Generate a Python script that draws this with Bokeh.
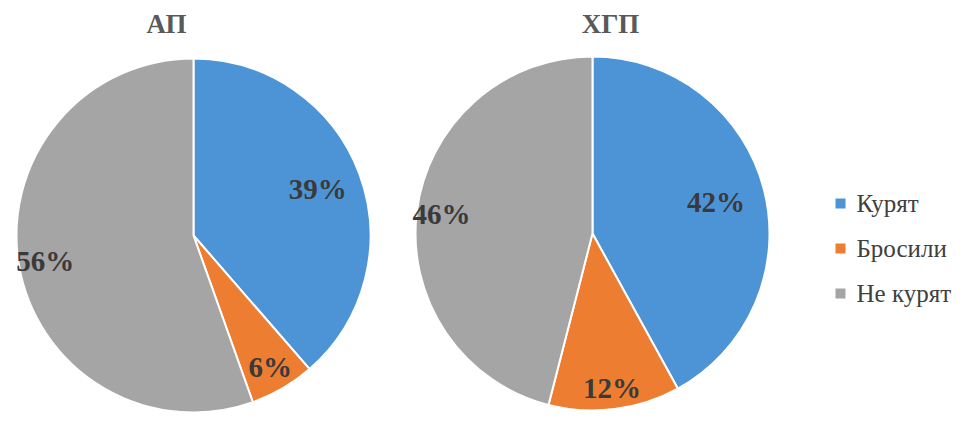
import numpy as np
from bokeh.plotting import figure
from bokeh.models import Range1d
from bokeh.core.properties import value
from bokeh.embed import file_html
from bokeh.resources import INLINE

# ---- data ----
categories = ["Курят", "Бросили", "Не курят"]
ap_values = [39, 6, 56]
hgp_values = [42, 12, 46]
chart_titles = ["АП", "ХГП"]

# ---- style ----
colors = ["#4D94D6", "#ED7D31", "#A5A5A5"]
FONT = "'Liberation Serif', 'Times New Roman', serif"
W, H = 955, 412

p = figure(width=W, height=H, x_range=Range1d(0, W), y_range=Range1d(0, H),
           output_backend="svg", toolbar_location=None,
           x_axis_type=None, y_axis_type=None, min_border=0)
p.grid.visible = False
p.outline_line_color = None
p.background_fill_color = "white"
p.border_fill_color = "white"

pies = [
    dict(vals=ap_values, cx=193, cy=H - 235, r=177, lf=[0.75, 0.86, 0.85], tx=166, ty=H - 23),
    dict(vals=hgp_values, cx=592, cy=H - 233, r=177, lf=[0.72, 0.88, 0.86], tx=610, ty=H - 23),
]

for pie, title in zip(pies, chart_titles):
    v = np.array(pie["vals"], dtype=float)
    frac = v / v.sum()
    cum = np.cumsum(frac)
    start = np.pi / 2 - 2 * np.pi * (cum - frac)
    end = np.pi / 2 - 2 * np.pi * cum
    p.wedge(x=pie["cx"], y=pie["cy"], radius=pie["r"],
            start_angle=list(start), end_angle=list(end), direction="clock",
            fill_color=colors, line_color="white", line_width=2)
    mid = np.pi / 2 - 2 * np.pi * (cum - frac / 2)
    rf = np.array(pie["lf"])
    lx = pie["cx"] + rf * pie["r"] * np.cos(mid)
    ly = pie["cy"] + rf * pie["r"] * np.sin(mid)
    labels = [f"{int(x)}%" for x in pie["vals"]]
    p.text(x=list(lx), y=list(ly), text=labels, text_font=value(FONT),
           text_font_size="29px", text_font_style="bold", text_color="#3A3A3A",
           text_align="center", text_baseline="middle")
    p.text(x=[pie["tx"]], y=[pie["ty"]], text=[title], text_font=value(FONT),
           text_font_size="27px", text_font_style="bold", text_color="#595959",
           text_align="center", text_baseline="middle")

# legend
leg_x = 840
leg_y = [H - 203, H - 248, H - 293]
p.scatter(x=[leg_x] * 3, y=leg_y, marker="square", size=10,
          fill_color=colors, line_color=None)
p.text(x=[leg_x + 16] * 3, y=leg_y, text=categories, text_font=value(FONT),
       text_font_size="25px", text_color="#404040",
       text_align="left", text_baseline="middle")

open("out.html", "w").write(file_html(p, INLINE))
